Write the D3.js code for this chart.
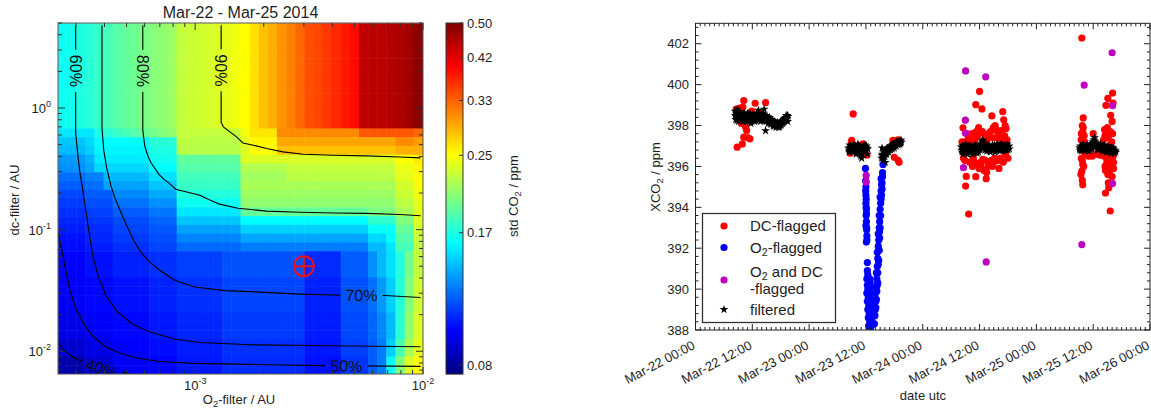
<!DOCTYPE html>
<html>
<head>
<meta charset="utf-8">
<script src="https://cdn.jsdelivr.net/npm/d3@7"></script>
<style>
  html, body { margin: 0; padding: 0; background: #fff; }
  svg { display: block; font-family: "Liberation Sans", Arial, Helvetica, sans-serif; }
</style>
</head>
<body>
<svg id="fig" width="1151" height="414"></svg>
<script>
// ---------------- Left panel: std of XCO2 over the filter grid ----------------
const o2Filter = [2.62e-4, 2.87e-4, 3.15e-4, 3.45e-4, 3.78e-4, 4.15e-4, 4.55e-4, 4.99e-4, 5.47e-4, 6.00e-4,
  6.58e-4, 7.22e-4, 7.92e-4, 8.68e-4, 9.52e-4, 1.044e-3, 1.145e-3, 1.255e-3, 1.377e-3, 1.51e-3,
  1.656e-3, 1.816e-3, 1.991e-3, 2.183e-3, 2.393e-3, 2.624e-3, 2.877e-3, 3.155e-3, 3.459e-3, 3.793e-3,
  4.159e-3, 4.56e-3, 5.0e-3, 5.483e-3, 6.012e-3, 6.592e-3, 7.228e-3, 7.925e-3, 8.69e-3, 9.528e-3];

// rows run from the largest dc-filter value (top) to the smallest (bottom)
const dcFilter = [4.59, 3.89, 3.29, 2.79, 2.36, 2.00, 1.69, 1.44, 1.22, 1.03,
  0.872, 0.738, 0.625, 0.530, 0.449, 0.380, 0.322, 0.273, 0.231, 0.195,
  0.166, 0.140, 0.119, 0.101, 0.0852, 0.0721, 0.0611, 0.0518, 0.0438, 0.0371,
  0.0315, 0.0266, 0.0226, 0.0191, 0.0162, 0.0137, 0.0116, 0.00983, 0.00832, 0.00705];

// std CO2 / ppm, one row per dc-filter value, one column per O2-filter value
const stdCO2 = [
  [.162,.163,.167,.17,.175,.18,.185,.19,.193,.197,.202,.205,.21,.225,.228,.23,.232,.235,.24,.245,.252,.265,.28,.29,.305,.315,.33,.345,.35,.36,.37,.38,.39,.445,.45,.45,.455,.46,.47,.49],
  [.162,.163,.167,.17,.175,.18,.185,.19,.193,.197,.202,.205,.21,.225,.228,.23,.232,.235,.24,.245,.252,.265,.28,.29,.305,.315,.33,.345,.35,.36,.37,.38,.39,.445,.45,.45,.455,.46,.47,.49],
  [.162,.163,.167,.17,.175,.18,.185,.19,.193,.197,.202,.205,.21,.225,.228,.23,.232,.235,.24,.245,.252,.265,.28,.29,.305,.315,.33,.345,.35,.36,.37,.38,.39,.445,.45,.45,.455,.46,.47,.49],
  [.162,.163,.167,.17,.175,.18,.185,.19,.193,.197,.202,.205,.21,.225,.228,.23,.232,.235,.24,.245,.252,.265,.28,.29,.305,.315,.33,.345,.35,.36,.37,.38,.39,.445,.45,.45,.455,.46,.47,.49],
  [.162,.163,.167,.17,.175,.18,.185,.19,.193,.197,.202,.205,.21,.225,.228,.23,.232,.235,.24,.245,.252,.265,.28,.29,.305,.315,.33,.345,.35,.36,.37,.38,.39,.445,.45,.45,.455,.46,.47,.49],
  [.162,.163,.167,.17,.175,.18,.185,.19,.193,.197,.202,.205,.21,.225,.228,.23,.232,.235,.24,.245,.252,.265,.28,.29,.305,.315,.33,.345,.35,.36,.37,.38,.39,.445,.45,.45,.455,.46,.47,.49],
  [.162,.163,.167,.17,.175,.18,.185,.19,.193,.197,.202,.205,.21,.225,.228,.23,.232,.235,.24,.245,.252,.265,.28,.29,.305,.315,.33,.345,.35,.36,.37,.38,.39,.445,.45,.45,.455,.46,.47,.49],
  [.162,.163,.167,.17,.175,.18,.185,.19,.193,.197,.202,.205,.21,.225,.228,.23,.232,.235,.24,.245,.252,.265,.28,.29,.305,.315,.33,.345,.35,.36,.37,.38,.39,.445,.45,.45,.455,.46,.47,.49],
  [.162,.163,.167,.17,.175,.18,.185,.19,.193,.197,.202,.205,.21,.225,.228,.23,.232,.235,.24,.245,.252,.265,.28,.29,.305,.315,.33,.345,.35,.36,.37,.38,.39,.445,.45,.45,.455,.46,.47,.49],
  [.162,.163,.167,.17,.175,.18,.185,.19,.193,.197,.202,.205,.21,.225,.228,.23,.232,.235,.24,.245,.252,.265,.28,.29,.305,.315,.33,.345,.35,.36,.37,.38,.39,.445,.45,.45,.455,.46,.47,.49],
  [.162,.163,.167,.17,.175,.18,.185,.19,.193,.197,.202,.205,.21,.225,.228,.23,.232,.235,.24,.245,.252,.265,.28,.29,.305,.315,.33,.345,.35,.36,.37,.38,.39,.445,.45,.45,.455,.46,.47,.49],
  [.162,.163,.167,.17,.175,.18,.185,.19,.193,.197,.202,.205,.21,.225,.228,.23,.232,.235,.24,.245,.252,.265,.28,.29,.305,.315,.33,.345,.35,.36,.37,.38,.39,.445,.45,.45,.455,.46,.47,.49],
  [.152,.152,.152,.152,.165,.17,.175,.18,.185,.19,.195,.2,.205,.225,.225,.225,.225,.225,.225,.225,.245,.262,.262,.262,.31,.31,.31,.31,.31,.31,.31,.31,.31,.34,.34,.34,.34,.34,.34,.33],
  [.143,.143,.143,.148,.158,.158,.158,.158,.158,.158,.17,.17,.17,.222,.222,.222,.222,.222,.222,.222,.24,.255,.255,.255,.295,.295,.295,.295,.295,.295,.295,.295,.295,.295,.295,.295,.295,.31,.31,.3],
  [.14,.14,.14,.145,.156,.156,.156,.156,.156,.156,.167,.167,.167,.22,.22,.22,.22,.22,.22,.22,.235,.25,.25,.25,.28,.28,.28,.28,.28,.28,.28,.28,.28,.28,.28,.28,.28,.29,.29,.29],
  [.132,.132,.132,.138,.153,.153,.153,.153,.153,.153,.163,.163,.163,.188,.188,.188,.188,.188,.188,.188,.235,.235,.235,.235,.235,.235,.235,.235,.235,.235,.235,.235,.235,.235,.235,.235,.235,.25,.25,.26],
  [.13,.13,.13,.135,.148,.148,.148,.148,.148,.148,.158,.158,.158,.185,.185,.185,.185,.185,.185,.185,.218,.218,.218,.218,.218,.225,.225,.225,.225,.225,.225,.225,.225,.225,.225,.225,.225,.242,.242,.255],
  [.122,.122,.122,.126,.126,.14,.14,.14,.14,.14,.15,.15,.15,.178,.178,.178,.178,.178,.178,.178,.212,.212,.212,.212,.212,.222,.222,.222,.222,.222,.222,.222,.222,.222,.222,.222,.222,.238,.238,.252],
  [.118,.118,.118,.122,.122,.134,.134,.134,.134,.134,.143,.143,.143,.175,.175,.175,.175,.175,.175,.175,.215,.215,.215,.215,.215,.215,.215,.215,.215,.215,.215,.215,.215,.215,.215,.215,.215,.232,.232,.25],
  [.114,.114,.114,.118,.118,.118,.128,.128,.128,.128,.136,.136,.136,.168,.168,.168,.168,.168,.168,.168,.21,.21,.21,.21,.21,.21,.21,.21,.21,.21,.21,.21,.21,.21,.21,.21,.21,.228,.228,.245],
  [.111,.111,.111,.115,.115,.115,.123,.123,.123,.123,.13,.13,.13,.162,.162,.162,.162,.162,.162,.162,.205,.205,.205,.205,.205,.205,.205,.205,.205,.205,.205,.205,.205,.205,.205,.205,.205,.222,.222,.24],
  [.109,.109,.109,.112,.112,.112,.118,.118,.118,.118,.124,.124,.124,.152,.152,.152,.152,.152,.152,.152,.19,.19,.19,.19,.19,.19,.19,.19,.19,.19,.19,.19,.19,.19,.198,.198,.198,.215,.215,.238],
  [.107,.107,.107,.11,.11,.11,.115,.115,.115,.115,.12,.12,.12,.143,.143,.143,.143,.143,.143,.143,.158,.158,.158,.158,.158,.158,.158,.158,.158,.158,.158,.158,.158,.158,.172,.172,.172,.2,.2,.235],
  [.105,.105,.105,.108,.108,.108,.113,.113,.113,.113,.117,.117,.117,.134,.134,.134,.134,.134,.134,.134,.146,.146,.146,.146,.146,.146,.146,.146,.146,.146,.146,.146,.146,.146,.16,.16,.16,.19,.19,.23],
  [.103,.103,.103,.107,.107,.107,.111,.111,.111,.111,.115,.115,.115,.127,.127,.127,.127,.127,.127,.127,.135,.135,.135,.135,.135,.135,.135,.135,.135,.135,.135,.135,.135,.135,.148,.148,.158,.185,.185,.228],
  [.102,.102,.102,.105,.105,.105,.109,.109,.109,.109,.113,.113,.113,.121,.121,.121,.121,.121,.121,.121,.125,.125,.125,.125,.125,.125,.125,.125,.125,.125,.125,.125,.125,.125,.14,.14,.152,.18,.18,.225],
  [.1,.1,.1,.103,.103,.103,.106,.106,.106,.106,.109,.109,.109,.112,.112,.112,.112,.112,.116,.116,.116,.116,.116,.116,.116,.116,.116,.108,.108,.108,.108,.118,.118,.118,.13,.14,.15,.168,.195,.225],
  [.1,.1,.1,.103,.103,.103,.106,.106,.106,.106,.109,.109,.109,.112,.112,.112,.112,.112,.116,.116,.116,.116,.116,.116,.116,.116,.116,.108,.108,.108,.108,.118,.118,.118,.13,.14,.15,.168,.195,.225],
  [.1,.1,.1,.103,.103,.103,.106,.106,.106,.106,.109,.109,.109,.112,.112,.112,.112,.112,.116,.116,.116,.116,.116,.116,.116,.116,.116,.108,.108,.108,.108,.118,.118,.118,.13,.14,.15,.168,.195,.225],
  [.099,.099,.099,.101,.101,.101,.103,.103,.103,.103,.106,.106,.106,.109,.109,.109,.109,.109,.113,.113,.113,.113,.113,.113,.113,.113,.113,.106,.106,.106,.106,.116,.116,.116,.122,.132,.145,.168,.2,.23],
  [.099,.099,.099,.101,.101,.101,.103,.103,.103,.103,.106,.106,.106,.109,.109,.109,.109,.109,.113,.113,.113,.113,.113,.113,.113,.113,.113,.106,.106,.106,.106,.116,.116,.116,.122,.132,.145,.168,.2,.23],
  [.099,.099,.099,.101,.101,.101,.103,.103,.103,.103,.106,.106,.106,.109,.109,.109,.109,.109,.113,.113,.113,.113,.113,.113,.113,.113,.113,.106,.106,.106,.106,.116,.116,.116,.122,.132,.145,.168,.2,.23],
  [.099,.099,.099,.101,.101,.101,.103,.103,.103,.103,.106,.106,.106,.109,.109,.109,.109,.109,.113,.113,.113,.113,.113,.113,.113,.113,.113,.106,.106,.106,.106,.116,.116,.116,.122,.132,.145,.168,.2,.23],
  [.096,.096,.096,.099,.099,.099,.101,.101,.101,.101,.104,.104,.104,.107,.107,.107,.107,.107,.111,.111,.111,.111,.111,.111,.111,.111,.111,.105,.105,.105,.105,.114,.114,.114,.12,.128,.14,.17,.205,.235],
  [.096,.096,.096,.099,.099,.099,.101,.101,.101,.101,.104,.104,.104,.107,.107,.107,.107,.107,.111,.111,.111,.111,.111,.111,.111,.111,.111,.105,.105,.105,.105,.114,.114,.114,.12,.128,.14,.17,.205,.235],
  [.096,.096,.096,.099,.099,.099,.101,.101,.101,.101,.104,.104,.104,.107,.107,.107,.107,.107,.111,.111,.111,.111,.111,.111,.111,.111,.111,.105,.105,.105,.105,.114,.114,.114,.12,.128,.14,.17,.205,.235],
  [.092,.092,.092,.096,.096,.096,.1,.1,.1,.1,.102,.102,.102,.105,.105,.105,.105,.105,.109,.109,.109,.109,.109,.109,.109,.109,.109,.104,.104,.104,.104,.112,.112,.112,.118,.125,.145,.18,.215,.24],
  [.092,.092,.092,.096,.096,.096,.1,.1,.1,.1,.102,.102,.102,.105,.105,.105,.105,.105,.109,.109,.109,.109,.109,.109,.109,.109,.109,.104,.104,.104,.104,.112,.112,.112,.118,.125,.145,.18,.215,.24],
  [.086,.086,.086,.092,.092,.092,.098,.098,.098,.098,.1,.1,.1,.104,.104,.104,.104,.104,.108,.108,.108,.108,.108,.108,.108,.108,.108,.103,.103,.103,.103,.11,.11,.11,.118,.125,.16,.2,.235,.25],
  [.086,.086,.086,.092,.092,.092,.098,.098,.098,.098,.1,.1,.1,.104,.104,.104,.104,.104,.108,.108,.108,.108,.108,.108,.108,.108,.108,.103,.103,.103,.103,.11,.11,.11,.118,.125,.16,.2,.235,.25]
];

const colorbarTicks = [0.5, 0.4167, 0.3333, 0.25, 0.1667, 0.0833];

// contours of the fraction of data kept, as [O2-filter, dc-filter] pairs
const contour40 = [[2.50e-4,0.0118],[2.65e-4,0.0102],[2.84e-4,0.00921],[3.11e-4,0.00838],[3.45e-4,0.00777],[3.88e-4,0.00723],[4.44e-4,0.00681],[5.16e-4,0.00655]];
const contour50 = [[2.50e-4,0.0935],[2.60e-4,0.0678],[2.70e-4,0.0464],[2.82e-4,0.0318],[2.99e-4,0.0226],[3.21e-4,0.0174],[3.51e-4,0.0136],[4.01e-4,0.0110],[4.67e-4,0.00966],[5.54e-4,0.00879],[6.99e-4,0.00823],[9.96e-4,0.00795],[1.74e-3,0.0078],[3.63e-3,0.00762],[9.75e-3,0.00751]];
const contour60 = [[2.99e-4,4.79],[2.99e-4,0.621],[3.04e-4,0.450],[3.11e-4,0.308],[3.21e-4,0.211],[3.31e-4,0.145],[3.41e-4,0.099],[3.55e-4,0.0617],[3.74e-4,0.0422],[4.05e-4,0.0289],[4.57e-4,0.0210],[5.32e-4,0.0167],[6.32e-4,0.0144],[8.13e-4,0.0126],[1.05e-3,0.0118],[1.74e-3,0.0113],[4.02e-3,0.0111],[9.75e-3,0.0109]];
const contour70 = [[3.90e-4,4.79],[3.90e-4,0.682],[3.97e-4,0.450],[4.09e-4,0.320],[4.26e-4,0.232],[4.48e-4,0.175],[4.76e-4,0.134],[5.06e-4,0.103],[5.37e-4,0.0819],[5.77e-4,0.0653],[6.32e-4,0.0540],[6.99e-4,0.0464],[8.13e-4,0.0384],[9.96e-4,0.0337],[1.35e-3,0.0315],[1.74e-3,0.0309],[2.88e-3,0.0295],[4.31e-3,0.0289],[6.80e-3,0.0287],[9.75e-3,0.0277]];
const contour80 = [[5.89e-4,4.79],[5.89e-4,0.657],[6.01e-4,0.485],[6.19e-4,0.409],[6.38e-4,0.358],[6.65e-4,0.320],[6.92e-4,0.286],[7.28e-4,0.260],[7.73e-4,0.239],[8.22e-4,0.215],[9.09e-4,0.205],[1.05e-3,0.192],[1.14e-3,0.178],[1.28e-3,0.162],[1.54e-3,0.150],[2.06e-3,0.142],[2.88e-3,0.139],[4.03e-3,0.137],[5.65e-3,0.136],[7.91e-3,0.133],[9.75e-3,0.130]];
const contour90 = [[1.30e-3,4.79],[1.30e-3,0.764],[1.33e-3,0.699],[1.42e-3,0.636],[1.52e-3,0.579],[1.62e-3,0.516],[1.80e-3,0.494],[2.06e-3,0.465],[2.43e-3,0.436],[2.98e-3,0.417],[4.03e-3,0.409],[5.65e-3,0.404],[7.91e-3,0.396],[9.75e-3,0.389]];

const contourLevels = ["40%", "50%", "60%", "70%", "80%", "90%"];
const contourLabelO2 = [3.88e-4, 4.61e-3, 2.99e-4, 5.37e-3, 5.89e-4, 1.30e-3];
const contourLabelDc = [0.00723, 0.00758, 2.02, 0.0289, 2.02, 2.04];

const chosenFilter = [3.0e-3, 0.05];  // O2-filter, dc-filter

// ---------------- Right panel: XCO2 time series (hours after 2014-03-22 00:00 UTC) ----------------
const dcFlagged = [
  [8.8,396.94],[9.4,398.85],[10.2,399.22],[9.9,397.1],[10.2,397.43],[11.1,397.4],[11.5,397.35],[12.6,399.09],[14.8,399.12],[9.0,398.3],
  [9.7,398.1],[10.8,397.76],[10.6,397.92],[12.9,398.4],[15.0,398.24],[8.6,398.8],[9.2,398.6],[10.0,398.9],[11.9,398.7],[13.8,398.6],
  [33.3,398.57],[33.0,397.27],[32.7,396.65],[32.9,397.2],[35.4,397.1],[36.2,396.55],
  [41.7,397.27],[42.8,396.3],[43.0,396.2],[41.4,396.9],[42.0,396.45],[42.8,397.3],
  [60.0,399.67],[59.2,399.02],[60.5,398.81],[62.6,398.47],[64.9,398.68],[65.1,398.28],[56.5,397.89],[59.3,397.7],
  [59.6,397.5],[63.5,397.8],[63.9,397.6],[64.6,397.75],[65.6,397.85],[62.8,397.4],[57.2,395.51],[57.05,395.04],[59.2,395.5],[61.4,395.4],
  [61.5,395.7],[58.9,396.2],[59.6,396.1],[62.1,396.1],[60.7,396.35],[57.7,393.67],[56.6,396.4],[58.0,397.4],[58.5,396.0],[60.3,396.0],
  [61.0,397.6],[62.0,397.5],[63.0,396.2],[64.0,396.3],[64.5,397.2],[65.3,397.5],[58.2,397.1],[57.5,397.3],[61.8,396.0],[63.3,398.0],
  [60.9,395.8],[65.5,396.6],
  [56.3,397.2],[56.9,396.3],[57.3,397.6],[57.9,396.2],[58.4,397.6],[58.7,396.4],[59.0,397.3],[59.8,397.9],[60.2,396.2],[60.6,397.7],
  [61.2,396.3],[61.6,397.3],[62.3,397.7],[62.5,396.3],[62.9,397.9],[63.2,396.4],[63.7,397.4],[64.2,397.7],[64.4,396.4],[64.8,397.4],
  [65.0,396.2],[65.4,398.0],[65.8,397.3],[66.0,396.4],[59.9,395.9],[62.7,396.0],[64.1,395.9],
  [81.6,402.28],[88.1,399.59],[87.1,399.33],[86.7,398.99],[81.9,398.37],[81.7,398.0],[81.8,397.7],[82.1,397.5],[81.45,397.3],[88.0,398.2],
  [86.4,397.8],[86.7,397.6],[81.6,395.77],[81.7,395.32],[87.1,395.6],[87.4,395.7],[87.3,394.96],[87.6,393.82],[81.5,396.4],[81.8,396.1],
  [82.3,396.6],[86.5,396.0],[86.9,396.3],[87.5,396.2],[88.2,396.5],[87.8,396.0],[86.6,395.8],[88.0,396.8],[82.0,396.9],[87.9,397.2],
  [87.2,397.4],[83.0,396.5],[84.5,396.6],[85.5,396.55],[86.2,397.3],[87.7,398.5],[88.3,395.9],
  [81.3,396.8],[81.5,397.6],[81.7,396.3],[81.9,397.9],[82.0,396.0],[82.2,397.2],[81.4,395.6],[81.8,395.1],[86.3,396.5],[86.5,397.5],
  [86.8,396.1],[87.0,397.9],[87.3,396.4],[87.6,397.7],[87.9,396.3],[88.1,397.6],[88.3,396.2],[88.0,395.5],[87.2,395.2],[86.6,394.7],
  [88.2,399.1],[83.8,396.5],[84.0,397.6],[86.0,397.0]
];

const o2Flagged = [
  [35.9,395.9],[36.0,395.0],[35.95,394.8],[36.0,394.6],[36.05,394.4],[36.0,394.2],[36.1,393.9],[36.05,393.6],[36.1,393.3],[36.15,393.0],
  [36.2,392.6],[36.1,392.3],[36.3,391.3],[35.95,395.3],[36.05,394.0],[36.1,393.7],[36.15,392.9],[36.2,392.4],[36.0,393.1],
  [36.2,390.5],[36.3,390.2],[36.4,390.0],[36.2,389.8],[36.5,389.6],[36.3,389.4],[36.6,389.2],[36.4,389.0],[36.7,388.8],[36.5,388.6],[36.8,388.4],
  [36.6,388.2],[36.9,388.1],[36.7,389.9],[36.9,390.3],[37.0,390.1],[37.1,389.5],[37.0,388.9],[37.2,388.5],[36.8,390.5],[37.1,388.2],
  [37.3,389.2],[37.4,388.7],[37.5,388.3],[36.3,390.9],[36.4,390.7],[36.5,390.4],[36.6,390.0],[36.7,389.6],[36.8,389.3],[36.9,388.9],
  [37.0,388.6],[37.1,388.9],[37.2,389.4],[36.9,389.7],[37.3,388.4],
  [37.8,388.3],[37.9,388.7],[38.0,389.0],[38.1,389.4],[38.0,389.8],[38.2,390.1],[38.3,390.5],[38.2,390.8],[38.4,391.1],[38.5,391.5],
  [38.4,391.8],[38.6,392.1],[38.7,392.4],[38.6,392.7],[38.8,393.0],[38.9,393.3],[38.8,393.6],[39.0,393.9],[39.1,394.2],[39.0,394.5],
  [39.2,394.8],[39.3,395.1],[39.2,395.4],[39.4,395.2],[39.3,394.6],[38.9,392.5],[38.5,390.8],[38.2,389.5],[39.6,396.1],[39.5,395.5],
  [39.0,393.0],[38.7,391.9],[38.1,389.1],[38.3,389.9],[38.5,390.3],[38.6,391.2],[38.8,391.9],[38.9,392.8],[39.1,393.6],[39.2,394.4],
  [39.4,394.9],[39.5,395.7],[38.4,390.2],[38.7,391.4]
];

const bothFlagged = [
  [36.05,395.56],[36.05,395.23],[57.05,400.67],[61.3,400.38],[57.0,398.26],[57.0,397.63],[56.6,395.94],[61.4,391.33],
  [82.1,399.98],[88.0,401.56],[88.1,398.97],[88.1,395.16],[81.6,392.18]
];

const filtered = [
  [8.4,398.5],[8.5,398.3],[8.6,398.6],[8.7,398.4],[8.8,398.8],[9.0,398.5],[9.1,398.2],[9.3,398.6],[9.4,398.4],[9.6,398.3],
  [9.8,398.5],[10.0,398.2],[10.1,398.6],[10.3,398.4],[10.5,398.3],[10.7,398.5],[10.9,398.2],[11.1,398.4],[11.3,398.6],[11.5,398.3],
  [11.7,398.1],[11.9,398.4],[12.1,398.3],[12.3,398.5],[12.5,398.2],[12.7,398.4],[12.9,398.6],[13.1,398.3],[13.3,398.75],[13.5,398.4],
  [13.7,398.2],[13.9,398.5],[14.1,398.3],[14.3,398.6],[14.5,398.8],[14.6,398.4],[14.8,397.75],[15.0,398.4],[15.2,398.3],[15.4,398.2],
  [15.6,398.4],[15.8,398.1],[16.0,398.3],[16.2,398.2],[16.4,398.0],[16.6,398.2],[16.8,398.1],[17.0,397.9],[17.2,398.1],[17.4,398.0],
  [17.6,397.9],[17.8,398.1],[18.0,398.0],[18.2,398.2],[18.4,398.1],[18.6,398.3],[18.8,398.2],[19.0,398.4],[19.2,398.3],[19.4,398.5],[19.5,398.2],
  [8.35,398.7],[8.55,398.45],[8.75,398.25],[8.95,398.65],[9.15,398.45],[9.35,398.3],[9.55,398.6],[9.75,398.35],[9.95,398.55],[10.15,398.35],
  [10.35,398.6],[10.55,398.2],[10.75,398.4],[10.95,398.6],[11.15,398.25],[11.35,398.45],[11.55,398.55],[11.75,398.3],[11.95,398.2],[12.15,398.55],
  [12.35,398.3],[12.55,398.45],[12.75,398.25],[12.95,398.4],[13.15,398.55],[13.35,398.3],[13.55,398.6],[13.75,398.35],[13.95,398.25],[14.15,398.5],
  [14.35,398.35],[14.55,398.25],[14.75,398.5],[14.95,398.2],[15.15,398.45],[15.35,398.1],[15.55,398.25],[15.75,398.3],[15.95,398.05],[16.15,398.15],
  [16.35,398.25],[16.55,397.95],[16.75,398.0],[16.95,398.15],[17.15,397.95],[17.35,398.15],[17.55,398.05],[17.75,397.95],[17.95,398.15],[18.15,398.05],
  [18.35,398.25],[18.55,398.15],[18.75,398.35],[18.95,398.25],[19.15,398.5],[19.35,398.35],[19.55,398.45],
  [32.3,396.9],[32.5,396.7],[32.7,397.0],[32.9,396.8],[33.1,396.95],[33.3,396.7],[33.5,397.05],[33.7,396.85],[33.9,396.6],[34.1,396.9],
  [34.3,397.1],[34.5,396.8],[34.7,396.95],[34.9,396.5],[35.1,396.4],[35.3,396.85],[35.5,397.0],[35.7,396.7],[35.9,396.9],[36.1,397.0],
  [36.3,396.6],[36.4,396.85],
  [32.4,396.8],[32.6,397.05],[32.8,396.9],[33.0,396.75],[33.2,397.0],[33.4,396.85],[33.6,396.75],[33.8,397.0],[34.0,396.75],[34.2,396.95],
  [34.4,396.7],[34.6,397.0],[34.8,396.65],[35.0,396.8],[35.2,396.6],[35.4,396.75],[35.6,396.9],[35.8,397.05],[36.0,396.75],[36.2,396.9],
  [39.3,396.4],[39.5,396.6],[39.6,396.3],[39.8,396.7],[40.0,396.5],[40.2,396.8],[40.4,396.6],[40.6,396.9],[40.8,396.7],[41.0,396.95],
  [41.2,396.8],[41.4,397.0],[41.6,396.85],[41.8,397.1],[42.0,396.9],[42.2,397.15],[42.4,397.0],[42.6,397.2],[42.8,397.05],[43.0,397.25],
  [43.2,397.1],[43.4,397.3],[39.4,396.9],[40.1,396.2],
  [39.35,396.55],[39.55,396.45],[39.75,396.5],[39.95,396.75],[40.15,396.6],[40.35,396.85],[40.55,396.7],[40.75,396.85],[40.95,396.8],[41.15,397.0],
  [41.35,396.9],[41.55,397.05],[41.75,396.95],[41.95,397.05],[42.15,397.0],[42.35,397.2],[42.55,397.1],[42.75,397.15],[42.95,397.1],[43.15,397.2],
  [43.35,397.15],[43.5,397.2],
  [56.2,396.8],[56.4,397.0],[56.5,396.6],[56.7,396.9],[56.9,396.7],[57.1,397.1],[57.3,396.8],[57.5,396.6],[57.7,396.9],[57.9,397.0],
  [58.1,396.7],[58.3,396.9],[58.5,396.6],[58.7,396.8],[58.9,397.0],[59.1,396.7],[59.3,396.9],[59.5,396.65],[59.7,396.85],[59.9,397.05],
  [60.1,396.8],[60.3,397.1],[60.5,397.25],[60.7,397.3],[60.9,397.1],[61.1,396.9],[61.3,397.0],[61.5,396.75],[61.7,396.95],[61.9,396.8],
  [62.1,397.0],[62.3,396.7],[62.5,396.9],[62.7,397.05],[62.9,396.8],[63.1,396.95],[63.3,396.7],[63.5,396.9],[63.7,397.1],[63.9,396.85],
  [64.1,397.0],[64.3,396.75],[64.5,396.95],[64.7,397.1],[64.9,396.85],[65.1,397.0],[65.3,396.8],[65.5,397.05],[65.7,396.9],[65.9,397.1],
  [66.1,396.95],[66.3,396.85],
  [56.1,396.95],[56.3,396.7],[56.6,396.85],[56.8,396.75],[57.0,396.9],[57.2,396.65],[57.4,396.95],[57.6,396.75],[57.8,396.7],[58.0,396.85],
  [58.2,397.0],[58.4,396.75],[58.6,396.95],[58.8,396.7],[59.0,396.85],[59.2,397.05],[59.4,396.8],[59.6,396.95],[59.8,396.7],[60.0,396.95],
  [60.2,397.0],[60.4,396.9],[60.6,397.1],[60.8,397.2],[61.0,397.05],[61.2,396.8],[61.4,396.95],[61.6,396.85],[61.8,397.05],[62.0,396.75],
  [62.2,396.9],[62.4,396.85],[62.6,396.75],[62.8,396.95],[63.0,396.85],[63.2,397.05],[63.4,396.85],[63.6,396.75],[63.8,396.95],[64.0,396.8],
  [64.2,396.9],[64.4,397.05],[64.6,396.8],[64.8,396.95],[65.0,396.75],[65.2,396.95],[65.4,396.9],[65.6,396.8],[65.8,396.95],[66.0,396.8],[66.2,397.0],
  [81.1,396.9],[81.3,397.0],[81.5,396.75],[81.7,396.95],[81.9,397.1],[82.1,396.8],[82.3,396.95],[82.5,397.05],[82.7,396.8],[82.9,397.0],
  [83.1,396.75],[83.3,396.9],[83.5,397.1],[83.7,396.85],[83.9,397.2],[84.1,397.3],[84.3,397.4],[84.5,397.15],[84.7,397.0],[84.9,396.85],
  [85.1,397.05],[85.3,396.9],[85.5,397.1],[85.7,396.8],[85.9,397.0],[86.1,396.85],[86.3,397.05],[86.5,396.75],[86.7,396.95],[86.9,396.8],
  [87.1,397.0],[87.3,396.7],[87.5,396.9],[87.7,396.75],[87.9,396.95],[88.1,396.7],[88.3,396.85],[88.5,396.65],[88.7,396.8],
  [81.2,396.8],[81.4,396.95],[81.6,396.85],[81.8,396.8],[82.0,397.0],[82.2,396.9],[82.4,396.8],[82.6,396.95],[82.8,396.9],[83.0,396.85],
  [83.2,397.0],[83.4,396.8],[83.6,396.95],[83.8,397.05],[84.0,397.1],[84.2,397.15],[84.4,397.25],[84.6,397.0],[84.8,396.95],[85.0,396.8],
  [85.2,396.95],[85.4,396.85],[85.6,396.95],[85.8,396.9],[86.0,396.75],[86.2,396.95],[86.4,396.85],[86.6,396.9],[86.8,396.7],[87.0,396.85],
  [87.2,396.9],[87.4,396.8],[87.6,396.9],[87.8,396.65],[88.0,396.8],[88.2,396.9],[88.4,396.75],[88.6,396.75],[88.8,396.7]
];

const xco2Ticks = [388, 390, 392, 394, 396, 398, 400, 402];

// ======================================================================
const svg = d3.select("#fig");
const defs = svg.append("defs");
const ink = "#1e1e1e";

// MATLAB-style jet colour map
function jet(t) {
  const k = v => Math.max(0, Math.min(1, v));
  return d3.rgb(255 * k(1.5 - Math.abs(4 * t - 3)), 255 * k(1.5 - Math.abs(4 * t - 2)), 255 * k(1.5 - Math.abs(4 * t - 1)));
}

// text with subscripts; a "\n" part starts a new line
function richText(g, parts, attrs, lineGap) {
  const fs = attrs["font-size"];
  const t = g.append("text");
  Object.entries(attrs).forEach(([k, v]) => t.attr(k, v));
  let lowered = false, newline = false;
  parts.forEach(([s, sub]) => {
    if (s === "\n") { newline = true; return; }
    const ts = t.append("tspan").text(s);
    let dy = 0;
    if (lowered && !sub) { dy -= 0.2 * fs; lowered = false; }
    if (newline) { ts.attr("x", attrs.x); dy += lineGap; newline = false; }
    if (sub) { ts.attr("font-size", 0.72 * fs); dy += 0.2 * fs; lowered = true; }
    if (dy !== 0) ts.attr("dy", dy);
  });
  return t;
}

// ---------- left panel ----------
const L = {x0: 58, x1: 423, y0: 23, y1: 374};
const x = d3.scaleLog().domain([2.5e-4, 1e-2]).range([L.x0, L.x1]);
const y = d3.scaleLog().domain([0.0065, 5]).range([L.y1, L.y0]);
const norm = d3.scaleLog().domain([0.0795, 0.5]).range([0, 1]).clamp(true);
const colorOf = v => jet(norm(v)).formatHex();

function cellEdges(c) {
  const n = c.length, e = [c[0] * Math.sqrt(c[0] / c[1])];
  for (let i = 1; i < n; i++) e.push(Math.sqrt(c[i - 1] * c[i]));
  e.push(c[n - 1] * Math.sqrt(c[n - 1] / c[n - 2]));
  return e;
}
const xe = cellEdges(o2Filter), ye = cellEdges(dcFilter);

defs.append("clipPath").attr("id", "clipL").append("rect")
  .attr("x", L.x0).attr("y", L.y0).attr("width", L.x1 - L.x0).attr("height", L.y1 - L.y0);

const gL = svg.append("g");
const cells = [];
stdCO2.forEach((row, r) => row.forEach((v, c) => cells.push({r, c, v})));
gL.append("g").attr("clip-path", "url(#clipL)")
  .selectAll("rect").data(cells).join("rect")
  .attr("x", d => x(xe[d.c]))
  .attr("y", d => y(ye[d.r]))
  .attr("width", d => x(xe[d.c + 1]) - x(xe[d.c]) + 0.5)
  .attr("height", d => y(ye[d.r + 1]) - y(ye[d.r]) + 0.5)
  .attr("fill", d => colorOf(d.v));

// contour lines with inline labels
const contours = [contour40, contour50, contour60, contour70, contour80, contour90];
const gapMask = defs.append("mask").attr("id", "labelGaps").attr("maskUnits", "userSpaceOnUse")
  .attr("x", 0).attr("y", 0).attr("width", 1151).attr("height", 414);
gapMask.append("rect").attr("x", 0).attr("y", 0).attr("width", 1151).attr("height", 414).attr("fill", "white");

const contourG = gL.append("g").attr("clip-path", "url(#clipL)");
const lineGen = d3.line().x(d => x(d[0])).y(d => y(d[1]));
contourG.append("g").attr("mask", "url(#labelGaps)")
  .selectAll("path").data(contours).join("path")
  .attr("d", lineGen).attr("fill", "none").attr("stroke", "#000").attr("stroke-width", 1.1);

function labelAngle(pts, px, py) {
  let best = 0, bestD = Infinity;
  for (let i = 0; i < pts.length - 1; i++) {
    const ax = x(pts[i][0]), ay = y(pts[i][1]), bx = x(pts[i + 1][0]), by = y(pts[i + 1][1]);
    const dd = Math.hypot((ax + bx) / 2 - px, (ay + by) / 2 - py);
    if (dd < bestD) { bestD = dd; best = Math.atan2(by - ay, bx - ax) * 180 / Math.PI; }
  }
  if (best > 90) best -= 180;
  if (best <= -90) best += 180;
  return best;
}

contourLevels.forEach((lvl, i) => {
  const px = x(contourLabelO2[i]), py = y(contourLabelDc[i]);
  const ang = labelAngle(contours[i], px, py);
  const t = contourG.append("text")
    .attr("transform", `translate(${px},${py}) rotate(${ang})`)
    .attr("text-anchor", "middle").attr("dy", "0.36em")
    .attr("font-size", 16).attr("fill", "#111").text(lvl);
  const w = t.node().getComputedTextLength();
  gapMask.append("rect")
    .attr("transform", `translate(${px},${py}) rotate(${ang})`)
    .attr("x", -w / 2 - 5).attr("y", -8).attr("width", w + 10).attr("height", 16).attr("fill", "black");
});

// chosen filter setting
const cx = x(chosenFilter[0]), cy = y(chosenFilter[1]);
const mark = gL.append("g").attr("stroke", "#e8141c").attr("stroke-width", 2).attr("fill", "none");
mark.append("circle").attr("cx", cx).attr("cy", cy).attr("r", 10);
mark.append("line").attr("x1", cx - 10).attr("x2", cx + 10).attr("y1", cy).attr("y2", cy);
mark.append("line").attr("x1", cx).attr("x2", cx).attr("y1", cy - 10).attr("y2", cy + 10);

// frame and inward log ticks
gL.append("rect").attr("x", L.x0).attr("y", L.y0).attr("width", L.x1 - L.x0).attr("height", L.y1 - L.y0)
  .attr("fill", "none").attr("stroke", "#555").attr("stroke-width", 1);
const isDecade = v => Math.abs(Math.log10(v) - Math.round(Math.log10(v))) < 1e-6;
const tickG = gL.append("g").attr("stroke", "#333").attr("stroke-width", 1);
x.ticks().forEach(v => {
  const len = isDecade(v) ? 7 : 4, px = x(v);
  tickG.append("line").attr("x1", px).attr("x2", px).attr("y1", L.y1).attr("y2", L.y1 - len);
  tickG.append("line").attr("x1", px).attr("x2", px).attr("y1", L.y0).attr("y2", L.y0 + len);
});
y.ticks().forEach(v => {
  const len = isDecade(v) ? 7 : 4, py = y(v);
  tickG.append("line").attr("x1", L.x0).attr("x2", L.x0 + len).attr("y1", py).attr("y2", py);
  tickG.append("line").attr("x1", L.x1).attr("x2", L.x1 - len).attr("y1", py).attr("y2", py);
});

function powerLabel(g, px, py, exp, anchor) {
  const t = g.append("text").attr("x", px).attr("y", py).attr("font-size", 13).attr("fill", ink)
    .attr("text-anchor", anchor);
  t.append("tspan").text("10");
  t.append("tspan").attr("dy", -6).attr("font-size", 9).text(exp);
  return t;
}
x.ticks().filter(isDecade).forEach(v => powerLabel(gL, x(v), 390, String(Math.round(Math.log10(v))), "middle"));
y.ticks().filter(isDecade).forEach(v => powerLabel(gL, 51, y(v) + 5, String(Math.round(Math.log10(v))), "end"));

gL.append("text").attr("x", 240.5).attr("y", 18).attr("text-anchor", "middle")
  .attr("font-size", 16).attr("fill", ink).text("Mar-22 - Mar-25 2014");
richText(gL, [["O"], ["2", true], ["-filter / AU"]],
  {x: 239, y: 404, "text-anchor": "middle", "font-size": 13, fill: ink});
gL.append("text").attr("transform", "translate(19,200) rotate(-90)").attr("text-anchor", "middle")
  .attr("font-size", 13).attr("fill", ink).text("dc-filter / AU");

// colour bar
const CB = {x0: 446, x1: 463, y0: 23, y1: 374};
const cb = d3.scaleLog().domain([0.0795, 0.5]).range([CB.y1, CB.y0]);
const cbG = svg.append("g");
cbG.selectAll("rect.strip").data(d3.range(CB.y0, CB.y1, 1)).join("rect")
  .attr("x", CB.x0).attr("y", d => d).attr("width", CB.x1 - CB.x0).attr("height", 1.3)
  .attr("fill", d => colorOf(cb.invert(d + 0.5)));
cbG.append("rect").attr("x", CB.x0).attr("y", CB.y0).attr("width", CB.x1 - CB.x0).attr("height", CB.y1 - CB.y0)
  .attr("fill", "none").attr("stroke", "#333").attr("stroke-width", 1);
colorbarTicks.forEach(v => {
  cbG.append("line").attr("x1", CB.x1).attr("x2", CB.x1 - 4).attr("y1", cb(v)).attr("y2", cb(v))
    .attr("stroke", "#333");
  cbG.append("text").attr("x", CB.x1 + 4).attr("y", cb(v)).attr("dy", "0.36em")
    .attr("font-size", 13).attr("fill", ink).text(v.toFixed(2));
});
richText(cbG, [["std CO"], ["2", true], [" / ppm"]],
  {transform: "translate(518,196) rotate(-90)", "text-anchor": "middle", "font-size": 13, fill: ink});

// ---------- right panel ----------
const R = {x0: 695.5, x1: 1150, y0: 23.3, y1: 330};
const startUtc = Date.UTC(2014, 2, 22);
const at = h => new Date(startUtc + h * 3600e3);
const xt = d3.scaleUtc().domain([new Date(Date.UTC(2014, 2, 22)), new Date(Date.UTC(2014, 2, 26))]).range([R.x0, R.x1]);
const yc = d3.scaleLinear().domain([388, 403]).range([R.y1, R.y0]);

defs.append("clipPath").attr("id", "clipR").append("rect")
  .attr("x", R.x0).attr("y", R.y0).attr("width", R.x1 - R.x0).attr("height", R.y1 - R.y0);
const gR = svg.append("g");
const pts = gR.append("g").attr("clip-path", "url(#clipR)");

const dotR = 3.6;
pts.append("g").selectAll("circle").data(dcFlagged).join("circle")
  .attr("cx", d => xt(at(d[0]))).attr("cy", d => yc(d[1])).attr("r", dotR).attr("fill", "#ff0000");
pts.append("g").selectAll("circle").data(o2Flagged).join("circle")
  .attr("cx", d => xt(at(d[0]))).attr("cy", d => yc(d[1])).attr("r", dotR).attr("fill", "#0000ff");
pts.append("g").selectAll("circle").data(bothFlagged).join("circle")
  .attr("cx", d => xt(at(d[0]))).attr("cy", d => yc(d[1])).attr("r", dotR).attr("fill", "#bf00bf");
const star = d3.symbol(d3.symbolStar, 24);
pts.append("g").selectAll("path").data(filtered).join("path")
  .attr("transform", d => `translate(${xt(at(d[0]))},${yc(d[1])})`).attr("d", star).attr("fill", "#000");

// frame and inward ticks on all four sides
gR.append("rect").attr("x", R.x0).attr("y", R.y0).attr("width", R.x1 - R.x0).attr("height", R.y1 - R.y0)
  .attr("fill", "none").attr("stroke", "#222").attr("stroke-width", 1);
const tR = gR.append("g").attr("stroke", "#222").attr("stroke-width", 1);
const majorTimes = xt.ticks(d3.utcHour.every(12));
xt.ticks(d3.utcHour.every(1)).forEach(d => {
  const major = d.getUTCHours() % 12 === 0, len = major ? 6 : 3, px = xt(d);
  tR.append("line").attr("x1", px).attr("x2", px).attr("y1", R.y1).attr("y2", R.y1 - len);
  tR.append("line").attr("x1", px).attr("x2", px).attr("y1", R.y0).attr("y2", R.y0 + len);
});
d3.range(388, 403.01, 0.4).forEach(v => {
  const major = Math.abs(v - Math.round(v)) < 1e-6 && Math.round(v) % 2 === 0, len = major ? 6 : 3, py = yc(v);
  tR.append("line").attr("x1", R.x0).attr("x2", R.x0 + len).attr("y1", py).attr("y2", py);
  tR.append("line").attr("x1", R.x1).attr("x2", R.x1 - len).attr("y1", py).attr("y2", py);
});
xco2Ticks.forEach(v => {
  gR.append("text").attr("x", 689).attr("y", yc(v)).attr("dy", "0.36em").attr("text-anchor", "end")
    .attr("font-size", 13).attr("fill", ink).text(v);
});
const fmt = d3.utcFormat("%b-%d %H:%M");
majorTimes.forEach(d => {
  gR.append("text").attr("transform", `translate(${xt(d) + 0.5},${R.y1 + 18}) rotate(-28)`)
    .attr("text-anchor", "end").attr("font-size", 13).attr("fill", ink).text(fmt(d));
});
gR.append("text").attr("x", 923).attr("y", 400).attr("text-anchor", "middle")
  .attr("font-size", 13).attr("fill", ink).text("date utc");
richText(gR, [["XCO"], ["2", true], [" / ppm"]],
  {transform: "translate(660,177) rotate(-90)", "text-anchor": "middle", "font-size": 13, fill: ink});

// legend
const lg = gR.append("g");
lg.append("rect").attr("x", 702.5).attr("y", 213.5).attr("width", 133).attr("height", 109)
  .attr("fill", "#fff").attr("stroke", "#333").attr("stroke-width", 1.3);
const legendRows = [
  {cy: 226, fill: "#ff0000", parts: [["DC-flagged"]], lines: 1},
  {cy: 247.5, fill: "#0000ff", parts: [["O"], ["2", true], ["-flagged"]], lines: 1},
  {cy: 280, fill: "#bf00bf", parts: [["O"], ["2", true], [" and DC"], ["\n"], ["-flagged"]], lines: 2},
  {cy: 309.5, fill: null, parts: [["filtered"]], lines: 1}
];
const lineGap = 17.5;
legendRows.forEach(row => {
  if (row.fill) lg.append("circle").attr("cx", 724).attr("cy", row.cy).attr("r", dotR).attr("fill", row.fill);
  else lg.append("path").attr("transform", `translate(724,${row.cy})`).attr("d", star).attr("fill", "#000");
  const by = row.cy - (row.lines - 1) * lineGap / 2 + 5.3;
  richText(lg, row.parts, {x: 750, y: by, "font-size": 15, fill: ink}, lineGap);
});
</script>
</body>
</html>
